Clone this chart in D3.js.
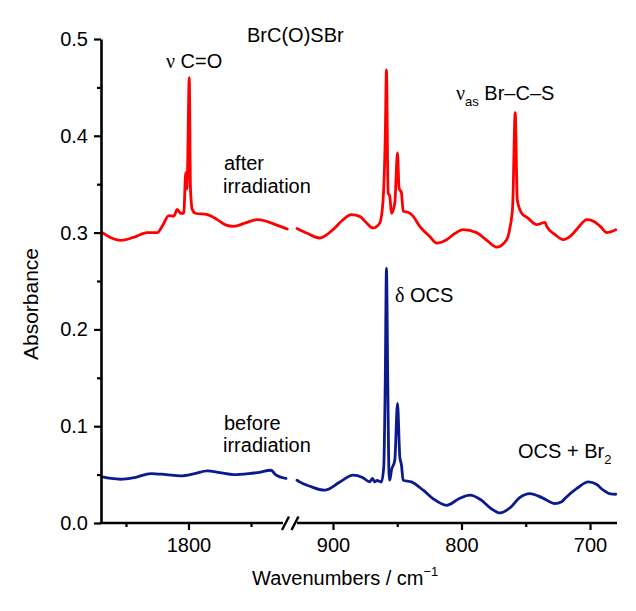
<!DOCTYPE html>
<html>
<head>
<meta charset="utf-8">
<script src="https://cdn.jsdelivr.net/npm/d3@7"></script>
<style>
  html, body { margin: 0; padding: 0; background: #fff; }
  svg { display: block; }
  text { font-family: "Liberation Sans", Arial, sans-serif; fill: #000; }
  .greek { font-family: "Liberation Serif", "DejaVu Serif", serif; }
</style>
</head>
<body>
<svg id="chart" width="636" height="611"></svg>
<script>
// ---------- DATA ----------
// Segment break: left panel 1870–1722 cm-1, right panel 928–679 cm-1
const leftDomain = [1870, 1722];
const rightDomain = [928, 679];
const leftTicksMajor = [1800];
const leftTicksMinor = [1850, 1750];
const rightTicksMajor = [900, 800, 700];
const rightTicksMinor = [850, 750];
const yTicksMajor = [0.0, 0.1, 0.2, 0.3, 0.4, 0.5];
const yTicksMinor = [0.05, 0.15, 0.25, 0.35, 0.45];

// "after irradiation" spectrum (red)
const afterLeftWn  = [1869, 1862.4, 1854.4, 1844, 1833, 1825, 1820.8, 1815.8, 1811.8, 1809, 1806.4, 1803.8, 1802.2, 1801.2, 1799.4, 1798.4, 1797, 1794.4, 1785, 1777, 1770.4, 1763.8, 1754.4, 1745, 1738.4, 1732, 1721];
const afterLeftAbs = [0.300, 0.295, 0.292, 0.295, 0.300, 0.300, 0.307, 0.3175, 0.317, 0.324, 0.320, 0.320, 0.362, 0.345, 0.460, 0.345, 0.324, 0.320, 0.3185, 0.3134, 0.308, 0.3064, 0.310, 0.3134, 0.312, 0.309, 0.3037];
const afterRightWn  = [928, 919.7, 910.4, 900, 892.4, 885.7, 879.2, 874.6, 868.8, 863.6, 861, 859.3, 858.4, 857.1, 855.8, 854.5, 851.9, 849.8, 848.6, 846.7, 845.4, 841.6, 837.7, 832.5, 824.7, 819.4, 811.6, 805.2, 798.7, 788.3, 780.3, 772.6, 764.9, 762.3, 760.2, 758.2, 756.6, 753.2, 748.3, 741.5, 735, 733.7, 727.3, 720.7, 715.5, 709.3, 702.5, 697.6, 692, 686.9, 680];
const afterRightAbs = [0.3043, 0.299, 0.2944, 0.303, 0.313, 0.3185, 0.3168, 0.311, 0.3048, 0.310, 0.334, 0.40, 0.468, 0.341, 0.3375, 0.320, 0.3306, 0.3824, 0.346, 0.341, 0.322, 0.321, 0.317, 0.3064, 0.296, 0.2892, 0.2927, 0.299, 0.303, 0.300, 0.292, 0.285, 0.2927, 0.305, 0.327, 0.424, 0.334, 0.320, 0.315, 0.3083, 0.3106, 0.3064, 0.298, 0.2927, 0.296, 0.305, 0.3134, 0.312, 0.3064, 0.300, 0.303];

// "before irradiation" spectrum (blue)
const beforeLeftWn  = [1869, 1862, 1854.4, 1843, 1830, 1818, 1806.4, 1795, 1785, 1775, 1763.8, 1752, 1745, 1733.9, 1730.4, 1722];
const beforeLeftAbs = [0.0476, 0.046, 0.0452, 0.047, 0.0511, 0.050, 0.0487, 0.051, 0.0538, 0.052, 0.050, 0.051, 0.0521, 0.0545, 0.050, 0.046];
const beforeRightWn  = [928, 926, 918, 906.5, 895, 884.4, 877, 871.4, 869.3, 867.5, 865.7, 862.3, 860.5, 859.3, 858.4, 857.4, 856.4, 855.8, 854.5, 851.9, 849.8, 848, 846.7, 845.4, 839, 829.8, 822, 811.6, 802, 793.5, 785, 777, 770.1, 762, 755, 746.7, 737, 727.3, 722, 719.5, 710, 701.3, 695, 689.6, 684, 680];
const beforeRightAbs = [0.0442, 0.0425, 0.038, 0.0339, 0.042, 0.0494, 0.047, 0.0425, 0.046, 0.0425, 0.044, 0.0425, 0.058, 0.15, 0.2633, 0.15, 0.051, 0.0442, 0.0545, 0.0649, 0.1236, 0.0683, 0.0597, 0.0442, 0.0425, 0.0339, 0.025, 0.0183, 0.025, 0.0287, 0.024, 0.015, 0.0104, 0.016, 0.026, 0.0304, 0.026, 0.0201, 0.022, 0.0253, 0.036, 0.0425, 0.040, 0.0339, 0.030, 0.0297];

// ---------- LAYOUT ----------
const svg = d3.select("#chart");
const axisX0 = 101, axisY0 = 523;
const xL = d3.scaleLinear().domain(leftDomain).range([101, 286]);
const xR = d3.scaleLinear().domain(rightDomain).range([297, 617]);
const y = d3.scaleLinear().domain([0, 0.5]).range([523, 39]);

const red = "#ff0000", blue = "#0b1a8c";

const zip = (a, b) => a.map((v, i) => [v, b[i]]);

function drawLine(xs, ws, vs, color) {
  const line = d3.line().x(d => xs(d[0])).y(d => y(d[1])).curve(d3.curveMonotoneX);
  const data = zip(ws, vs).sort((p, q) => xs(p[0]) - xs(q[0]));
  svg.append("path").attr("d", line(data)).attr("fill", "none")
    .attr("stroke", color).attr("stroke-width", 2.8)
    .attr("stroke-linejoin", "round").attr("stroke-linecap", "round");
}
drawLine(xL, afterLeftWn, afterLeftAbs, red);
drawLine(xR, afterRightWn, afterRightAbs, red);
drawLine(xL, beforeLeftWn, beforeLeftAbs, blue);
drawLine(xR, beforeRightWn, beforeRightAbs, blue);

// ---------- AXES ----------
const axStroke = 2.6;
// y axis
const yAxis = d3.axisLeft(y).tickValues(yTicksMajor).tickFormat(d3.format(".1f")).tickSize(7).tickSizeOuter(0).tickPadding(6);
const gy = svg.append("g").attr("transform", `translate(${axisX0},0)`).call(yAxis);
gy.select(".domain").attr("stroke", "#000").attr("stroke-width", axStroke);
gy.selectAll(".tick line").attr("stroke", "#000").attr("stroke-width", 2.2);
gy.selectAll(".tick text").attr("font-size", 20).attr("font-family", "Liberation Sans, Arial, sans-serif");
const gyMinor = svg.append("g").attr("transform", `translate(${axisX0},0)`)
  .call(d3.axisLeft(y).tickValues(yTicksMinor).tickSize(4).tickFormat(""));
gyMinor.select(".domain").remove();
gyMinor.selectAll(".tick line").attr("stroke", "#000").attr("stroke-width", 2.2);

function xAxisSeg(scale, major, minor, x0, x1) {
  const g = svg.append("g").attr("transform", `translate(0,${axisY0})`)
    .call(d3.axisBottom(scale).tickValues(major).tickFormat(d3.format("d")).tickSize(7).tickSizeOuter(0).tickPadding(8));
  g.select(".domain").remove();
  g.selectAll(".tick line").attr("stroke", "#000").attr("stroke-width", 2.2);
  g.selectAll(".tick text").attr("font-size", 20).attr("font-family", "Liberation Sans, Arial, sans-serif");
  const gm = svg.append("g").attr("transform", `translate(0,${axisY0})`)
    .call(d3.axisBottom(scale).tickValues(minor).tickSize(4).tickFormat(""));
  gm.select(".domain").remove();
  gm.selectAll(".tick line").attr("stroke", "#000").attr("stroke-width", 2.2);
  svg.append("line").attr("x1", x0).attr("x2", x1).attr("y1", axisY0).attr("y2", axisY0)
    .attr("stroke", "#000").attr("stroke-width", axStroke);
}
xAxisSeg(xL, leftTicksMajor, leftTicksMinor, axisX0 - 1.3, 283);
xAxisSeg(xR, rightTicksMajor, rightTicksMinor, 297, 617);

// break marks
[[282, 530, 289, 516.5], [291.5, 530, 298.5, 516.5]].forEach(s => {
  svg.append("line").attr("x1", s[0]).attr("y1", s[1]).attr("x2", s[2]).attr("y2", s[3])
    .attr("stroke", "#000").attr("stroke-width", 2.4);
});

// axis titles
svg.append("text").attr("transform", "translate(38,304) rotate(-90)")
  .attr("text-anchor", "middle").attr("font-size", 21).text("Absorbance");
const xt = svg.append("text").attr("x", 252).attr("y", 585).attr("font-size", 20);
xt.append("tspan").text("Wavenumbers / cm");
xt.append("tspan").attr("font-size", 13).attr("dy", -9).text("\u22121");

// ---------- ANNOTATIONS ----------
svg.append("text").attr("x", 247).attr("y", 42).attr("font-size", 20).text("BrC(O)SBr");

const t1 = svg.append("text").attr("x", 166).attr("y", 68).attr("font-size", 20);
t1.append("tspan").attr("class", "greek").text("\u03BD");
t1.append("tspan").text(" C=O");

svg.append("text").attr("x", 224).attr("y", 170).attr("font-size", 20).text("after");
svg.append("text").attr("x", 223).attr("y", 193).attr("font-size", 20).text("irradiation");

const t2 = svg.append("text").attr("x", 456).attr("y", 100).attr("font-size", 20);
t2.append("tspan").attr("class", "greek").text("\u03BD");
t2.append("tspan").attr("font-size", 13).attr("dy", 6).text("as");
t2.append("tspan").attr("dy", -6).text(" Br\u2013C\u2013S");

const t3 = svg.append("text").attr("x", 395).attr("y", 302).attr("font-size", 20);
t3.append("tspan").attr("class", "greek").text("\u03B4");
t3.append("tspan").text(" OCS");

svg.append("text").attr("x", 224).attr("y", 430).attr("font-size", 20).text("before");
svg.append("text").attr("x", 223).attr("y", 452).attr("font-size", 20).text("irradiation");

const t4 = svg.append("text").attr("x", 518).attr("y", 458).attr("font-size", 20);
t4.append("tspan").text("OCS + Br");
t4.append("tspan").attr("font-size", 13).attr("dy", 6).text("2");
</script>
</body>
</html>
